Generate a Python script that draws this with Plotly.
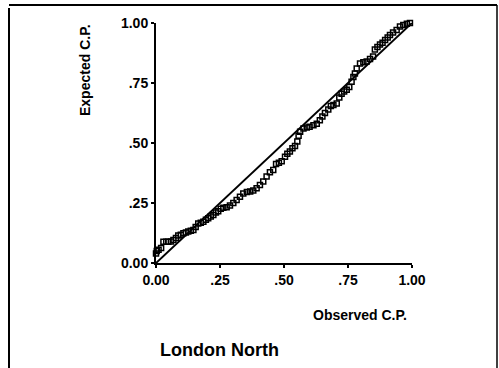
import plotly.graph_objects as go

# Observed vs expected cumulative probabilities (P-P plot)
observed = [0.000, 0.003, 0.010, 0.020, 0.029, 0.040, 0.048, 0.058, 0.068, 0.078,
            0.087, 0.097, 0.107, 0.117, 0.126, 0.136, 0.146, 0.155, 0.165, 0.175,
            0.185, 0.195, 0.204, 0.214, 0.224, 0.234, 0.243, 0.253, 0.263, 0.276,
            0.289, 0.302, 0.315, 0.328, 0.341, 0.355, 0.368, 0.380, 0.393, 0.406,
            0.419, 0.432, 0.445, 0.458, 0.469, 0.480, 0.491, 0.504, 0.513, 0.523,
            0.533, 0.543, 0.552, 0.557, 0.563, 0.576, 0.589, 0.600, 0.615, 0.628,
            0.640, 0.650, 0.660, 0.673, 0.683, 0.693, 0.706, 0.716, 0.725, 0.735,
            0.745, 0.755, 0.764, 0.771, 0.777, 0.784, 0.797, 0.810, 0.823, 0.836,
            0.848, 0.855, 0.865, 0.875, 0.885, 0.895, 0.905, 0.914, 0.926, 0.940,
            0.953, 0.966, 0.980, 0.992]
expected = [0.040, 0.050, 0.055, 0.062, 0.089, 0.089, 0.089, 0.090, 0.096, 0.104,
            0.115, 0.118, 0.124, 0.127, 0.131, 0.134, 0.138, 0.150, 0.165, 0.168,
            0.172, 0.180, 0.186, 0.194, 0.200, 0.210, 0.216, 0.226, 0.230, 0.232,
            0.240, 0.250, 0.262, 0.276, 0.290, 0.296, 0.298, 0.302, 0.311, 0.325,
            0.340, 0.360, 0.378, 0.388, 0.412, 0.418, 0.424, 0.443, 0.455, 0.465,
            0.478, 0.488, 0.506, 0.530, 0.547, 0.560, 0.565, 0.568, 0.574, 0.580,
            0.595, 0.610, 0.625, 0.640, 0.654, 0.658, 0.665, 0.690, 0.705, 0.715,
            0.722, 0.733, 0.755, 0.775, 0.790, 0.810, 0.831, 0.836, 0.840, 0.850,
            0.860, 0.890, 0.900, 0.910, 0.918, 0.929, 0.940, 0.950, 0.960, 0.971,
            0.985, 0.992, 0.997, 1.000]

ref_line = [0.0, 1.0]
tick_vals = [0.0, 0.25, 0.5, 0.75, 1.0]
tick_text = ["0.00", ".25", ".50", ".75", "1.00"]

FONT = "Liberation Sans, Arial, sans-serif"

fig = go.Figure()
fig.add_trace(go.Scatter(x=ref_line, y=ref_line, mode="lines",
                         line=dict(color="black", width=2), cliponaxis=False,
                         hoverinfo="skip"))
fig.add_trace(go.Scatter(x=observed, y=expected, mode="markers",
                         marker=dict(symbol="square-open", size=5, color="black",
                                     line=dict(color="black", width=1.5)),
                         cliponaxis=False))

axis_common = dict(range=[0, 1], showgrid=False, zeroline=False, showline=True,
                   linecolor="black", linewidth=2, ticks="outside", ticklen=3,
                   tickwidth=2, tickcolor="black", tickvals=tick_vals,
                   ticktext=tick_text,
                   tickfont=dict(family=FONT, size=14, color="black", weight="bold"))
fig.update_xaxes(**axis_common)
fig.update_yaxes(**axis_common)

def px_x(p):
    return (p - 156) / 256.0

def px_y(p):
    return (263 - p) / 240.0

shapes = [
    dict(type="line", xref="paper", yref="paper", x0=px_x(9), x1=px_x(497),
         y0=px_y(5), y1=px_y(5), line=dict(color="black", width=2)),
    dict(type="line", xref="paper", yref="paper", x0=px_x(9), x1=px_x(9),
         y0=px_y(8), y1=px_y(368), line=dict(color="black", width=2)),
    dict(type="line", xref="paper", yref="paper", x0=px_x(497), x1=px_x(497),
         y0=px_y(5), y1=px_y(368), line=dict(color="black", width=1.5)),
]

annotations = [
    dict(text="Expected C.P.", xref="paper", yref="paper", x=px_x(85), y=px_y(70),
         textangle=-90, showarrow=False, xanchor="center", yanchor="middle",
         font=dict(family=FONT, size=14, color="black", weight="bold")),
    dict(text="Observed C.P.", xref="paper", yref="paper", x=px_x(360), y=px_y(315),
         showarrow=False, xanchor="center", yanchor="middle",
         font=dict(family=FONT, size=14, color="black", weight="bold")),
    dict(text="London North", xref="paper", yref="paper", x=px_x(219), y=px_y(350),
         showarrow=False, xanchor="center", yanchor="middle",
         font=dict(family=FONT, size=18, color="black", weight="bold")),
]

fig.update_layout(width=499, height=368, margin=dict(l=156, r=87, t=23, b=105),
                  paper_bgcolor="white", plot_bgcolor="white", showlegend=False,
                  shapes=shapes, annotations=annotations)

fig.write_html("out.html")
